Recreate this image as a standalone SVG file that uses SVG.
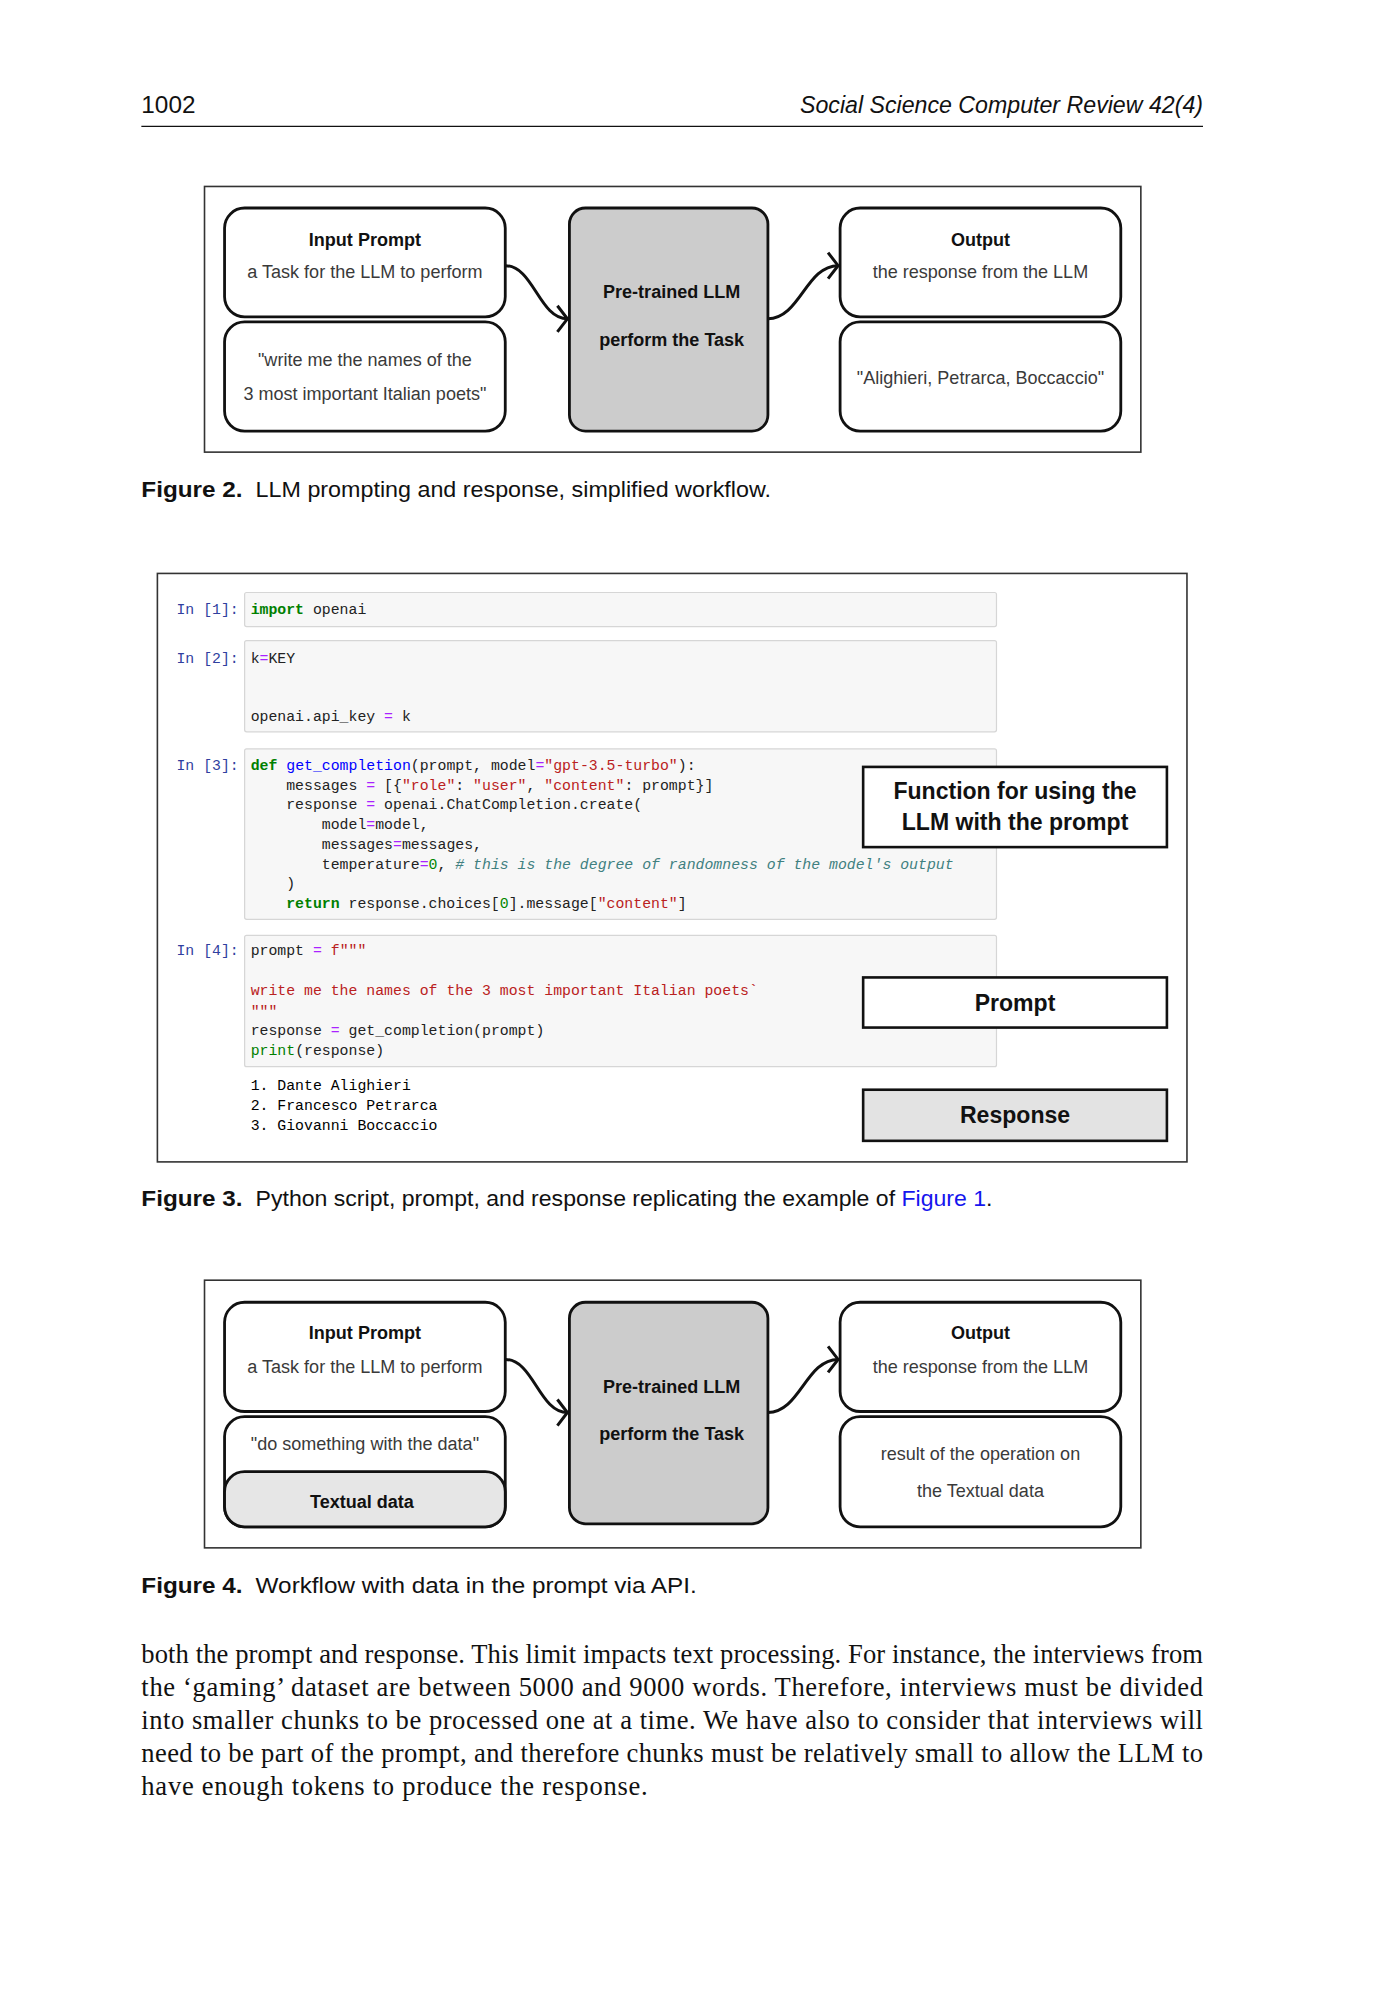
<svg xmlns="http://www.w3.org/2000/svg" width="1375" height="2000" viewBox="0 0 1375 2000">
<style>
.hdr{font-family:"Liberation Sans",Arial,sans-serif;font-size:23px;fill:#111}
.cap{font-family:"Liberation Sans",Arial,sans-serif;font-size:22.5px;fill:#111}
.capb{font-family:"Liberation Sans",Arial,sans-serif;font-size:22.5px;font-weight:bold;fill:#111}
.frame{fill:none;stroke:#333;stroke-width:1.6}
.box{fill:#fff;stroke:#111;stroke-width:2.8}
.llm{fill:#cccccc;stroke:#111;stroke-width:2.8}
.gbox{fill:#e6e6e6;stroke:#111;stroke-width:2.8}
.lb{font-family:"Liberation Sans",Arial,sans-serif;font-size:18px;font-weight:bold;fill:#111;text-anchor:middle}
.lr{font-family:"Liberation Sans",Arial,sans-serif;font-size:18px;fill:#3a3a3a;text-anchor:middle}
.conn{fill:none;stroke:#111;stroke-width:3}
.cell{fill:#f7f7f7;stroke:#d6d6d6;stroke-width:1.2}
.code{font-family:"Liberation Mono","DejaVu Sans Mono",monospace;font-size:14.8px;fill:#222}
.inp{fill:#303f9f}
.kw{fill:#008000;font-weight:bold}
.bi{fill:#008000}
.fn{fill:#0000ff}
.st{fill:#ba2121}
.op{fill:#aa22ff}
.nu{fill:#008800}
.cm{fill:#408080;font-style:italic}
.obox{fill:#fff;stroke:#111;stroke-width:2.6}
.rbox{fill:#e3e3e3;stroke:#111;stroke-width:2.6}
.ot{font-family:"Liberation Sans",Arial,sans-serif;font-size:23px;font-weight:bold;fill:#111;text-anchor:middle}
.body{font-family:"Liberation Serif","Times New Roman",serif;font-size:26.5px;fill:#111}
</style>
<defs>
<marker id="arr" markerUnits="userSpaceOnUse" markerWidth="30" markerHeight="30" viewBox="-15 -15 30 30" refX="0" refY="0" orient="auto">
<path d="M-10,-13 L0,0 L-10,13" fill="none" stroke="#111" stroke-width="3"/>
</marker>
</defs>
<rect width="1375" height="2000" fill="#fff"/>
<g id="page" transform="scale(1.0025)">
<g id="header">
<text class="hdr" x="141" y="113" textLength="54" lengthAdjust="spacingAndGlyphs">1002</text>
<text class="hdr" x="798" y="113" font-style="italic" textLength="402" lengthAdjust="spacingAndGlyphs">Social Science Computer Review 42(4)</text>
<line x1="141" y1="126" x2="1200" y2="126" stroke="#111" stroke-width="1.3"/>
</g>

<!-- Figure 2 -->
<rect class="frame" x="204" y="186" width="934" height="265"/>
<g id="f2-input">
<rect class="box" x="224" y="207.5" width="280" height="108.5" rx="20"/>
<text class="lb" x="364" y="245">Input Prompt</text>
<text class="lr" x="364" y="277">a Task for the LLM to perform</text>
</g>
<g id="f2-prompt">
<rect class="box" x="224" y="321" width="280" height="109" rx="20"/>
<text class="lr" x="364" y="365">"write me the names of the</text>
<text class="lr" x="364" y="399">3 most important Italian poets"</text>
</g>
<g id="f2-llm">
<rect class="llm" x="568" y="207.5" width="198" height="222.5" rx="16"/>
<text class="lb" x="670" y="297.5">Pre-trained LLM</text>
<text class="lb" x="670" y="345">perform the Task</text>
</g>
<g id="f2-output">
<rect class="box" x="838" y="207.5" width="280" height="108.5" rx="20"/>
<text class="lb" x="978" y="245">Output</text>
<text class="lr" x="978" y="277">the response from the LLM</text>
</g>
<g id="f2-result">
<rect class="box" x="838" y="321" width="280" height="109" rx="20"/>
<text class="lr" x="978" y="383">"Alighieri, Petrarca, Boccaccio"</text>
</g>
<g id="f2-connectors">
<path class="conn" d="M504,265 C532,265 538,318 566,318" marker-end="url(#arr)"/>
<path class="conn" d="M766,318 C798,318 804,265 836,265" marker-end="url(#arr)"/>
</g>
<g id="cap2">
<text class="capb" x="141" y="496" textLength="101" lengthAdjust="spacingAndGlyphs">Figure 2.</text>
<text class="cap" x="255" y="496" textLength="514" lengthAdjust="spacingAndGlyphs">LLM prompting and response, simplified workflow.</text>
</g>

<!-- Figure 3 -->
<rect class="frame" x="157" y="572" width="1027" height="587"/>
<g id="f3-cells">
<rect class="cell" x="244" y="591" width="750" height="34" rx="2"/>
<rect class="cell" x="244" y="639" width="750" height="91" rx="2"/>
<rect class="cell" x="244" y="747" width="750" height="170" rx="2"/>
<rect class="cell" x="244" y="933" width="750" height="131" rx="2"/>
</g>
<g id="f3-code" class="code">
<text x="176" y="612" class="inp">In [1]:</text>
<text x="250" y="612"><tspan class="kw">import</tspan> openai</text>
<text x="176" y="661" class="inp">In [2]:</text>
<text x="250" y="661">k<tspan class="op">=</tspan>KEY</text>
<text x="250" y="719">openai.api_key <tspan class="op">=</tspan> k</text>
<text x="176" y="768" class="inp">In [3]:</text>
<text x="250" y="768"><tspan class="kw">def</tspan> <tspan class="fn">get_completion</tspan>(prompt, model<tspan class="op">=</tspan><tspan class="st">"gpt-3.5-turbo"</tspan>):</text>
<text x="285.5" y="787.7">messages <tspan class="op">=</tspan> [{<tspan class="st">"role"</tspan>: <tspan class="st">"user"</tspan>, <tspan class="st">"content"</tspan>: prompt}]</text>
<text x="285.5" y="807.4">response <tspan class="op">=</tspan> openai.ChatCompletion.create(</text>
<text x="321" y="827.1">model<tspan class="op">=</tspan>model,</text>
<text x="321" y="846.8">messages<tspan class="op">=</tspan>messages,</text>
<text x="321" y="866.5">temperature<tspan class="op">=</tspan><tspan class="nu">0</tspan>, <tspan class="cm"># this is the degree of randomness of the model's output</tspan></text>
<text x="285.5" y="886.2">)</text>
<text x="285.5" y="905.9"><tspan class="kw">return</tspan> response.choices[<tspan class="nu">0</tspan>].message[<tspan class="st">"content"</tspan>]</text>
<text x="176" y="953" class="inp">In [4]:</text>
<text x="250" y="953">prompt <tspan class="op">=</tspan> <tspan class="st">f"""</tspan></text>
<text x="250" y="993" class="st">write me the names of the 3 most important Italian poets`</text>
<text x="250" y="1013" class="st">"""</text>
<text x="250" y="1032">response <tspan class="op">=</tspan> get_completion(prompt)</text>
<text x="250" y="1052"><tspan class="bi">print</tspan>(response)</text>
<text x="250" y="1087" fill="#000">1. Dante Alighieri</text>
<text x="250" y="1107" fill="#000">2. Francesco Petrarca</text>
<text x="250" y="1127" fill="#000">3. Giovanni Boccaccio</text>
</g>
<g id="f3-function">
<rect class="obox" x="861" y="765" width="303" height="80"/>
<text class="ot" x="1012.5" y="797">Function for using the</text>
<text class="ot" x="1012.5" y="828">LLM with the prompt</text>
</g>
<g id="f3-prompt">
<rect class="obox" x="861" y="975" width="303" height="50"/>
<text class="ot" x="1012.5" y="1008">Prompt</text>
</g>
<g id="f3-response">
<rect class="rbox" x="861" y="1087" width="303" height="51"/>
<text class="ot" x="1012.5" y="1120">Response</text>
</g>
<g id="cap3">
<text class="capb" x="141" y="1203" textLength="101" lengthAdjust="spacingAndGlyphs">Figure 3.</text>
<text class="cap" x="255" y="1203" textLength="735" lengthAdjust="spacingAndGlyphs">Python script, prompt, and response replicating the example of <tspan style="fill:#1515ee">Figure 1</tspan>.</text>
</g>

<!-- Figure 4 -->
<rect class="frame" x="204" y="1277" width="934" height="267"/>
<g id="f4-input">
<rect class="box" x="224" y="1299" width="280" height="109" rx="20"/>
<text class="lb" x="364" y="1336">Input Prompt</text>
<text class="lr" x="364" y="1369.5">a Task for the LLM to perform</text>
</g>
<g id="f4-prompt">
<rect class="box" x="224" y="1413" width="280" height="110" rx="20"/>
<text class="lr" x="364" y="1446">"do something with the data"</text>
</g>
<g id="f4-data">
<rect class="gbox" x="224" y="1468" width="280" height="55" rx="20"/>
<text class="lb" x="361" y="1504.5">Textual data</text>
</g>
<g id="f4-llm">
<rect class="llm" x="568" y="1299" width="198" height="221" rx="16"/>
<text class="lb" x="670" y="1390">Pre-trained LLM</text>
<text class="lb" x="670" y="1436">perform the Task</text>
</g>
<g id="f4-output">
<rect class="box" x="838" y="1299" width="280" height="109" rx="20"/>
<text class="lb" x="978" y="1336">Output</text>
<text class="lr" x="978" y="1369.5">the response from the LLM</text>
</g>
<g id="f4-result">
<rect class="box" x="838" y="1413" width="280" height="110" rx="20"/>
<text class="lr" x="978" y="1456">result of the operation on</text>
<text class="lr" x="978" y="1493">the Textual data</text>
</g>
<g id="f4-connectors">
<path class="conn" d="M504,1356 C532,1356 538,1409 566,1409" marker-end="url(#arr)"/>
<path class="conn" d="M766,1409 C798,1409 804,1356 836,1356" marker-end="url(#arr)"/>
</g>
<g id="cap4">
<text class="capb" x="141" y="1589" textLength="101" lengthAdjust="spacingAndGlyphs">Figure 4.</text>
<text class="cap" x="255" y="1589" textLength="440" lengthAdjust="spacingAndGlyphs">Workflow with data in the prompt via API.</text>
</g>

<g id="body">
<text class="body" x="141" y="1659" textLength="1059" lengthAdjust="spacing">both the prompt and response. This limit impacts text processing. For instance, the interviews from</text>
<text class="body" x="141" y="1692" textLength="1059" lengthAdjust="spacing">the ‘gaming’ dataset are between 5000 and 9000 words. Therefore, interviews must be divided</text>
<text class="body" x="141" y="1725" textLength="1059" lengthAdjust="spacing">into smaller chunks to be processed one at a time. We have also to consider that interviews will</text>
<text class="body" x="141" y="1758" textLength="1059" lengthAdjust="spacing">need to be part of the prompt, and therefore chunks must be relatively small to allow the LLM to</text>
<text class="body" x="141" y="1791" textLength="505" lengthAdjust="spacing">have enough tokens to produce the response.</text>
</g>
</g>
</svg>
